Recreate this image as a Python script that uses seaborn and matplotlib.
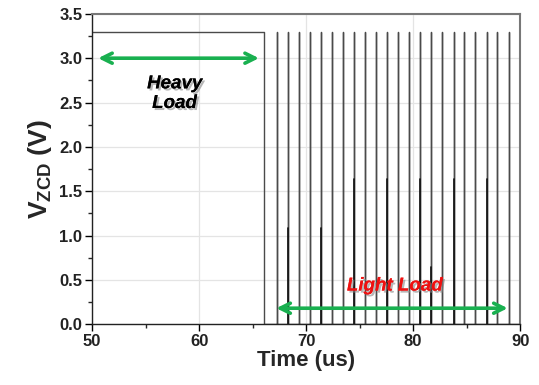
import numpy as np
import pandas as pd
import matplotlib
matplotlib.use("Agg")
import matplotlib.pyplot as plt
import matplotlib.patheffects as pe
from matplotlib.ticker import MultipleLocator
import seaborn as sns

# ---- data ----
heavy_start = 50.0
heavy_end = 66.07
high_level = 3.3
pulse_times = [67.26, 68.29, 69.35, 70.37, 71.37, 72.43, 73.43, 74.51, 75.54, 76.54,
               77.54, 78.63, 79.65, 80.68, 81.71, 82.74, 83.78, 84.80, 85.82, 86.89,
               87.88, 88.94]
partial_times = [68.29, 71.37, 74.51, 77.54, 80.68, 81.71, 83.78, 86.89]
partial_levels = [1.08, 1.08, 1.64, 1.64, 1.64, 0.65, 1.64, 1.64]

# ---- build waveform tables ----
t = [heavy_start, heavy_end, heavy_end]
v = [high_level, high_level, 0.0]
for p in pulse_times:
    t += [p, p, p]
    v += [0.0, high_level, 0.0]
t.append(90.0)
v.append(0.0)
wave = pd.DataFrame({"t": t, "v": v})

tp, vp, up = [], [], []
for i, (p, lv) in enumerate(zip(partial_times, partial_levels)):
    tp += [p, p]
    vp += [0.0, lv]
    up += [i, i]
partial = pd.DataFrame({"t": tp, "v": vp, "u": up})

sns.set_theme(style="white")
plt.rcParams["font.family"] = ["Liberation Sans", "DejaVu Sans"]
plt.rcParams["mathtext.fontset"] = "custom"
plt.rcParams["mathtext.bf"] = "Liberation Sans:bold"
plt.rcParams["mathtext.rm"] = "Liberation Sans"

fig = plt.figure(figsize=(5.39, 3.85), dpi=100)
ax = fig.add_axes([0.171, 0.158, 0.794, 0.806])

sns.lineplot(data=wave, x="t", y="v", estimator=None, sort=False,
             color="#4a4a4a", linewidth=1.0, ax=ax)
sns.lineplot(data=partial, x="t", y="v", units="u", estimator=None, sort=False,
             color="#111111", linewidth=1.2, ax=ax)

ax.set_xlim(50, 90)
ax.set_ylim(0, 3.5)
ax.xaxis.set_major_locator(MultipleLocator(10))
ax.xaxis.set_minor_locator(MultipleLocator(5))
ax.yaxis.set_major_locator(MultipleLocator(0.5))
ax.yaxis.set_minor_locator(MultipleLocator(0.25))
ax.set_yticks(np.arange(0, 3.51, 0.5))
ax.set_yticklabels([f"{y:.1f}" for y in np.arange(0, 3.51, 0.5)])

ax.grid(True, which="major", color="#e4e4e4", linewidth=0.9)
ax.set_axisbelow(True)

ax.tick_params(axis="both", which="major", direction="out", length=5, width=1,
               labelsize=12, colors="black", bottom=True, left=True, pad=2)
ax.tick_params(axis="both", which="minor", direction="out", length=3, width=1,
               bottom=True, left=True)
for lab in ax.get_xticklabels() + ax.get_yticklabels():
    lab.set_fontweight("bold")
    lab.set_color("#222222")

for side in ["left", "bottom"]:
    ax.spines[side].set_color("#222222")
    ax.spines[side].set_linewidth(1.0)
for side in ["top", "right"]:
    ax.spines[side].set_color("#777777")
    ax.spines[side].set_linewidth(1.5)

ax.set_xlabel("Time (us)", fontsize=16, fontweight="bold", labelpad=1)
ax.set_ylabel(r"$\mathbf{V_{ZCD}}$ (V)", fontsize=19, fontweight="bold", labelpad=4)

arrow = dict(arrowstyle="<->", color="#19b050", lw=2.6, mutation_scale=18)
ax.annotate("", xy=(50.3, 3.0), xytext=(65.85, 3.0), arrowprops=arrow)
ax.annotate("", xy=(66.95, 0.18), xytext=(89.1, 0.18), arrowprops=arrow)

shadow = [pe.withSimplePatchShadow(offset=(1.5, -1.5), shadow_rgbFace="#888888", alpha=0.6),
          pe.Normal()]
ax.text(57.7, 2.6, "Heavy\nLoad", ha="center", va="center", fontsize=13.5,
        fontweight="bold", fontstyle="italic", color="black", linespacing=1.2,
        path_effects=shadow)
ax.text(78.3, 0.43, "Light Load", ha="center", va="center", fontsize=13.5,
        fontweight="bold", fontstyle="italic", color="#ee1111", path_effects=shadow)

fig.savefig("out.png", dpi=100)
